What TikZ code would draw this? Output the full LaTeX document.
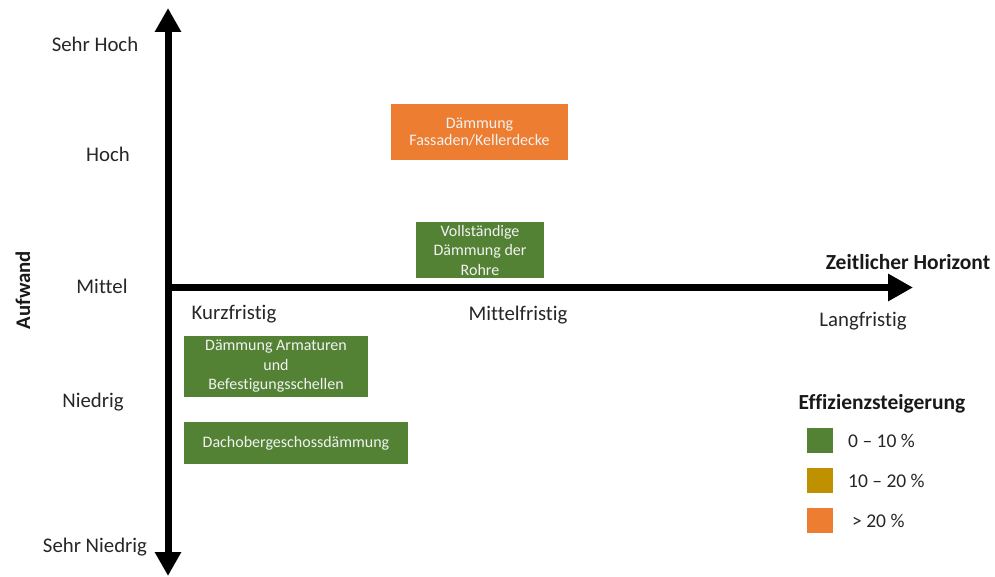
\documentclass[tikz,border=0pt]{standalone}
\usepackage{fontspec}
\setmainfont{Carlito}[Ligatures=CommonOff]
\usetikzlibrary{arrows.meta}
\definecolor{boxgreen}{HTML}{548235}
\definecolor{boxorange}{HTML}{ED7D31}
\definecolor{boxgold}{HTML}{BF9000}
\definecolor{boxtext}{HTML}{F2F2F2}
\tikzset{
  axis/.style={line width=7pt, draw=black},
  ylab/.style={font=\fontsize{20.8}{24}\selectfont, text=black!85, inner sep=0pt},
  xlab/.style={font=\fontsize{20.8}{24}\selectfont, text=black!85, inner sep=0pt},
  titlelab/.style={font=\fontsize{21.5}{24}\selectfont\bfseries, text=black!90, inner sep=0pt},
  measure/.style={fill=#1, draw=none, text=boxtext, align=center, inner sep=0pt,
    font=\fontsize{16}{19.5}\selectfont},
  legsq/.style={fill=#1, draw=none, minimum width=26pt, minimum height=25pt, inner sep=0pt},
  legtext/.style={font=\fontsize{19.5}{23}\selectfont, text=black!85, anchor=west, inner sep=0pt}
}
\begin{document}
\begin{tikzpicture}[x=1pt,y=-1pt]
\useasboundingbox (0,0) rectangle (995,577);
% axes
\coordinate (ytop) at (168,8);
\coordinate (ybot) at (168,576);
\coordinate (xorig) at (164.5,287.5);
\coordinate (xend) at (913,287.5);
\draw[axis, {Triangle[width=25pt,length=24pt]}-{Triangle[width=25pt,length=24pt]}] (ybot) -- (ytop);
\draw[axis, -{Triangle[width=26pt,length=25pt]}] (xorig) -- (xend);
% y labels
\node[ylab] (sh) at (95,44) {Sehr Hoch};
\node[ylab] (h) at (108,154) {Hoch};
\node[ylab] (m) at (102,286) {Mittel};
\node[ylab] (n) at (93,402) {Niedrig};
\node[ylab] (sn) at (95,547) {Sehr Niedrig};
\node[titlelab, font=\fontsize{20.8}{24}\selectfont\bfseries, rotate=90] (auf) at (23,290) {Aufwand};
% x labels
\node[xlab] (kf) at (234,314) {Kurzfristig};
\node[xlab] (mf) at (518,315) {Mittelfristig};
\node[xlab] (lf) at (863,321) {Langfristig};
\node[titlelab] (zh) at (908,262) {Zeitlicher Horizont};
% measures
\node[measure=boxorange, minimum width=177pt, minimum height=56pt, font=\fontsize{16}{17.5}\selectfont] (fass) at (479.5,132) {Dämmung\\Fassaden/Kellerdecke};
\node[measure=boxgreen, minimum width=128pt, minimum height=56pt] (rohr) at (480,250) {Vollständige\\Dämmung der\\Rohre};
\node[measure=boxgreen, minimum width=184pt, minimum height=61pt] (arm) at (276,366.5) {Dämmung Armaturen\\und\\Befestigungsschellen};
\node[measure=boxgreen, minimum width=224pt, minimum height=42pt] (dach) at (296,443) {Dachobergeschossdämmung};
% legend
\node[titlelab] (leg) at (882,404) {Effizienzsteigerung};
\node[legsq=boxgreen] (sq1) at (820,440.5) {};
\node[legsq=boxgold] (sq2) at (820,480.5) {};
\node[legsq=boxorange] (sq3) at (820,520.5) {};
\node[legtext] (t1) at (848,441) {0 – 10 \%};
\node[legtext] (t2) at (848,481) {10 – 20 \%};
\node[legtext] (t3) at (852,521) {> 20 \%};
\end{tikzpicture}
\end{document}
